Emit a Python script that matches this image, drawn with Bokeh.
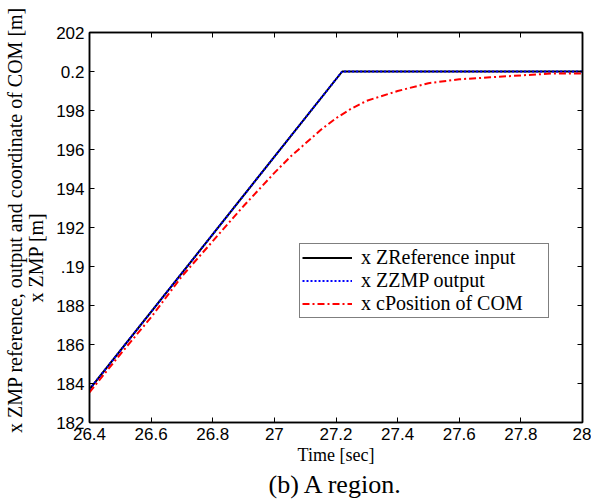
from bokeh.plotting import figure
from bokeh.models import (Range1d, LinearAxis, FixedTicker, CustomJSTickFormatter,
                          Legend, LegendItem, Title)
from bokeh.embed import file_html
from bokeh.resources import INLINE

# ---------------- data ----------------
time_ref = [26.4, 27.22, 28.0]
x_ref = [0.1837, 0.2, 0.2]

time_zmp = [26.4, 27.22, 28.0]
x_zmp = [0.1837, 0.2, 0.2]

time_com = [26.4, 26.5, 26.6, 26.7, 26.8, 26.9, 27.0, 27.05, 27.1, 27.15, 27.2, 27.25,
            27.3, 27.4, 27.5, 27.6, 27.7, 27.8, 27.9, 28.0]
x_com = [0.18355, 0.1855, 0.1874, 0.1895, 0.1913, 0.1931, 0.1948, 0.1956, 0.1963, 0.1970,
         0.1976, 0.1981, 0.1985, 0.1990, 0.1994, 0.1996, 0.1997, 0.1998, 0.1999, 0.1999]

x_ticks = [26.4, 26.6, 26.8, 27.0, 27.2, 27.4, 27.6, 27.8, 28.0]
x_tick_labels = ["26.4", "26.6", "26.8", "27", "27.2", "27.4", "27.6", "27.8", "28"]
y_ticks = [0.182, 0.184, 0.186, 0.188, 0.190, 0.192, 0.194, 0.196, 0.198, 0.200, 0.202]
y_tick_labels = ["182", "184", "186", "188", ".19", "192", "194", "196", "198", "0.2", "202"]

legend_labels = ["x ZReference input", "x ZZMP output", "x cPosition of COM"]
x_label = "Time [sec]"
y_label_outer = "x ZMP reference, output and coordinate of COM [m]"
y_label_inner = "x ZMP [m]"
caption = "(b) A region."

NB = "\u00a0"

# ---------------- figure ----------------
W, H = 591, 501
p = figure(width=W, height=H, output_backend="svg", toolbar_location=None,
           x_range=Range1d(26.4, 28.0), y_range=Range1d(0.182, 0.202),
           x_axis_type=None, y_axis_type=None,
           min_border_left=87, min_border_right=9, min_border_top=32, min_border_bottom=79)
p.background_fill_color = "white"
p.border_fill_color = "white"
p.xgrid.visible = False
p.ygrid.visible = False
p.outline_line_color = "black"
p.outline_line_width = 1.5

lookup_code = """
let best = 0; let d = Infinity;
for (let i = 0; i < tk.length; i++) {
  const dd = Math.abs(tk[i] - tick);
  if (dd < d) { d = dd; best = i; }
}
return lb[best];
"""

def style_axis(ax):
    ax.axis_line_color = "black"
    ax.axis_line_width = 1.5
    ax.major_tick_in = 5
    ax.major_tick_out = 0
    ax.major_tick_line_color = "black"
    ax.major_tick_line_width = 1
    ax.minor_tick_line_color = None
    ax.major_label_text_font = "Liberation Sans"
    ax.major_label_text_font_size = "17px"
    ax.major_label_text_color = "black"

def style_label(ax, size):
    ax.axis_label_text_font = "Liberation Serif"
    ax.axis_label_text_font_size = size
    ax.axis_label_text_font_style = "normal"
    ax.axis_label_text_color = "black"

xb = LinearAxis(ticker=FixedTicker(ticks=x_ticks),
                formatter=CustomJSTickFormatter(args=dict(tk=x_ticks, lb=x_tick_labels),
                                                code=lookup_code))
style_axis(xb)
xb.major_label_standoff = 5
xb.axis_label = x_label
style_label(xb, "18px")
xb.axis_label_standoff = 2
p.add_layout(xb, "below")

yl = LinearAxis(ticker=FixedTicker(ticks=y_ticks),
                formatter=CustomJSTickFormatter(args=dict(tk=y_ticks, lb=y_tick_labels),
                                                code=lookup_code))
style_axis(yl)
yl.major_label_standoff = 5
yl.axis_label = y_label_inner + NB * 12
style_label(yl, "20px")
yl.axis_label_standoff = 6
p.add_layout(yl, "left")

empty = "return '';"
yo = LinearAxis(ticker=FixedTicker(ticks=y_ticks), formatter=CustomJSTickFormatter(code=empty))
style_axis(yo)
yo.axis_line_color = None
yo.major_tick_line_color = None
yo.major_tick_in = 0
yo.major_label_standoff = 0
yo.axis_label = NB * 3 + y_label_outer
style_label(yo, "20px")
yo.axis_label_standoff = -3
p.add_layout(yo, "left")

xt = LinearAxis(ticker=FixedTicker(ticks=x_ticks), formatter=CustomJSTickFormatter(code=empty))
style_axis(xt)
xt.major_label_standoff = 0
p.add_layout(xt, "above")

yr = LinearAxis(ticker=FixedTicker(ticks=y_ticks), formatter=CustomJSTickFormatter(code=empty))
style_axis(yr)
yr.major_label_standoff = 0
p.add_layout(yr, "right")

# ---------------- lines ----------------
r_ref = p.line(time_ref, x_ref, line_color="black", line_width=2)
r_zmp = p.line(time_zmp, x_zmp, line_color="blue", line_width=2, line_dash="2 2")
r_com = p.line(time_com, x_com, line_color="red", line_width=2, line_dash="7 3 2 3")

legend = Legend(items=[LegendItem(label=legend_labels[0], renderers=[r_ref]),
                       LegendItem(label=legend_labels[1], renderers=[r_zmp]),
                       LegendItem(label=legend_labels[2], renderers=[r_com])],
                location=(210, 104))
legend.label_text_font = "Liberation Serif"
legend.label_text_font_size = "20px"
legend.label_text_color = "black"
legend.label_standoff = 9
legend.label_width = 185
legend.label_height = 19
legend.glyph_width = 50
legend.glyph_height = 19
legend.spacing = 0
legend.padding = 2
legend.margin = 0
legend.border_line_color = "black"
legend.border_line_width = 1.5
legend.background_fill_color = "white"
legend.background_fill_alpha = 1
p.add_layout(legend, "center")

# ---------------- caption ----------------
cap = Title(text=caption, align="center", text_font="Liberation Serif",
            text_font_size="26px", text_font_style="normal", text_color="black",
            standoff=0, offset=0)
p.add_layout(cap, "below")

open("out.html", "w").write(file_html(p, INLINE))
